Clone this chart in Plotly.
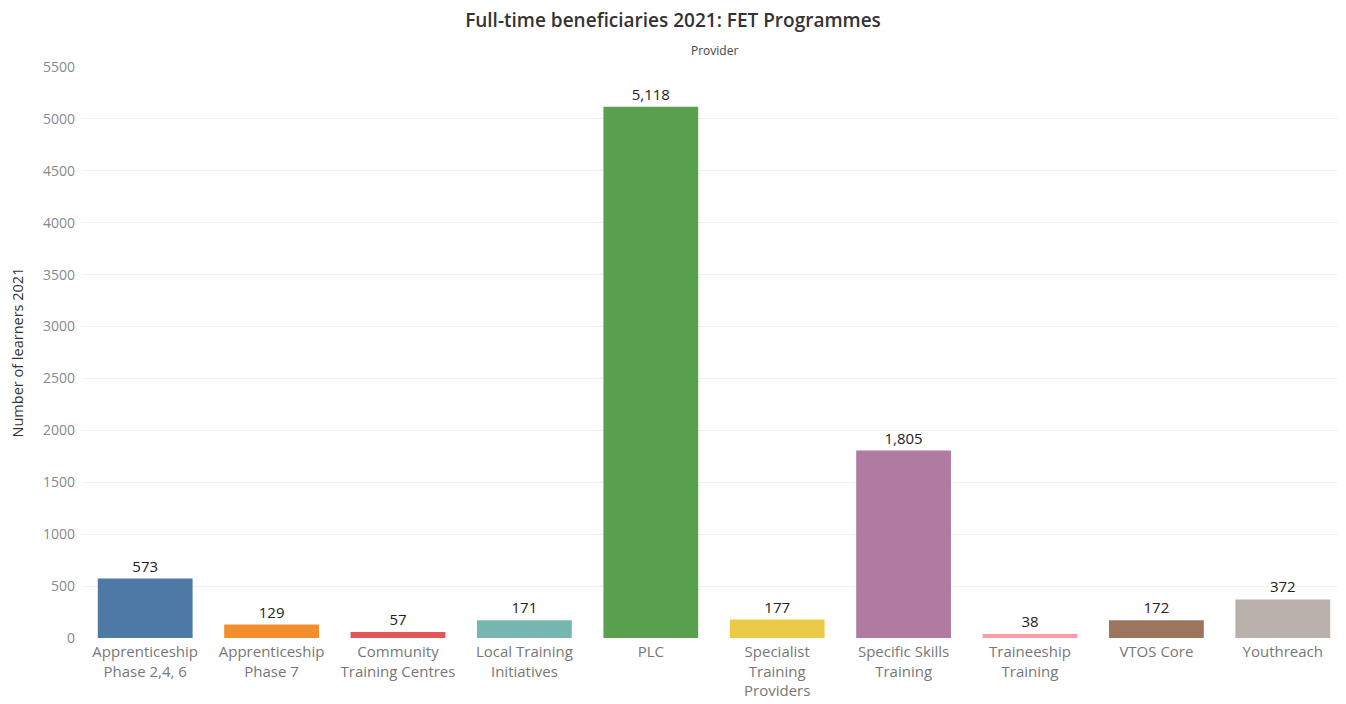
import plotly.graph_objects as go

categories = ["Apprenticeship<br>Phase 2,4, 6", "Apprenticeship<br>Phase 7", "Community<br>Training Centres",
              "Local Training<br>Initiatives", "PLC", "Specialist<br>Training<br>Providers",
              "Specific Skills<br>Training", "Traineeship<br>Training", "VTOS Core", "Youthreach"]
values = [573, 129, 57, 171, 5118, 177, 1805, 38, 172, 372]
colors = ["#4E79A7", "#F28E2B", "#E15759", "#76B7B2", "#59A14F", "#EDC948",
          "#B07AA1", "#FF9DA7", "#9C755F", "#BAB0AC"]
y_ticks = list(range(0, 5501, 500))

FONT = "Open Sans"
W, H = 1338, 696   # page body has an 8px margin
T, B, L, R = 59, 66, 74, 0

fig = go.Figure(go.Bar(
    x=categories, y=values, marker=dict(color=colors, line=dict(width=0)),
    text=[f"{v:,}" for v in values], textposition="outside",
    textfont=dict(family=FONT, size=15, color="#222222"),
    cliponaxis=False,
))

fig.update_layout(
    width=W, height=H,
    paper_bgcolor="white", plot_bgcolor="white",
    margin=dict(l=L, r=R, t=T, b=B),
    bargap=0.25,
    showlegend=False,
    font=dict(family=FONT),
    title=dict(text="Full-time beneficiaries 2021: FET Programmes", x=(673 - 8) / W, xanchor="center",
               xref="container", yref="container",
               y=1 - 12 / H, yanchor="middle",
               font=dict(family=FONT, size=19, color="#333333", weight=600)),
    annotations=[dict(text="Provider", x=0.5, xref="paper", yref="paper",
                      y=1 + (T - 43) / (H - T - B), yanchor="middle",
                      showarrow=False, font=dict(family=FONT, size=12, color="#444444"))],
)

fig.update_yaxes(
    range=[0, 5500], tickvals=y_ticks, ticktext=[str(t) for t in y_ticks],
    showgrid=True, gridcolor="#f1f1f1", gridwidth=1, zeroline=False,
    tickfont=dict(family=FONT, size=14, color="#888888"),
    ticklabelstandoff=6,
    title=dict(text="Number of learners 2021", font=dict(family=FONT, size=14.5, color="#333333"), standoff=40),
    ticks="", showline=False, automargin=False,
)
fig.update_xaxes(
    tickfont=dict(family=FONT, size=15, color="#777777"),
    ticklabelstandoff=3,
    showgrid=False, showline=False, ticks="", automargin=False,
)

fig.write_html("out.html")
